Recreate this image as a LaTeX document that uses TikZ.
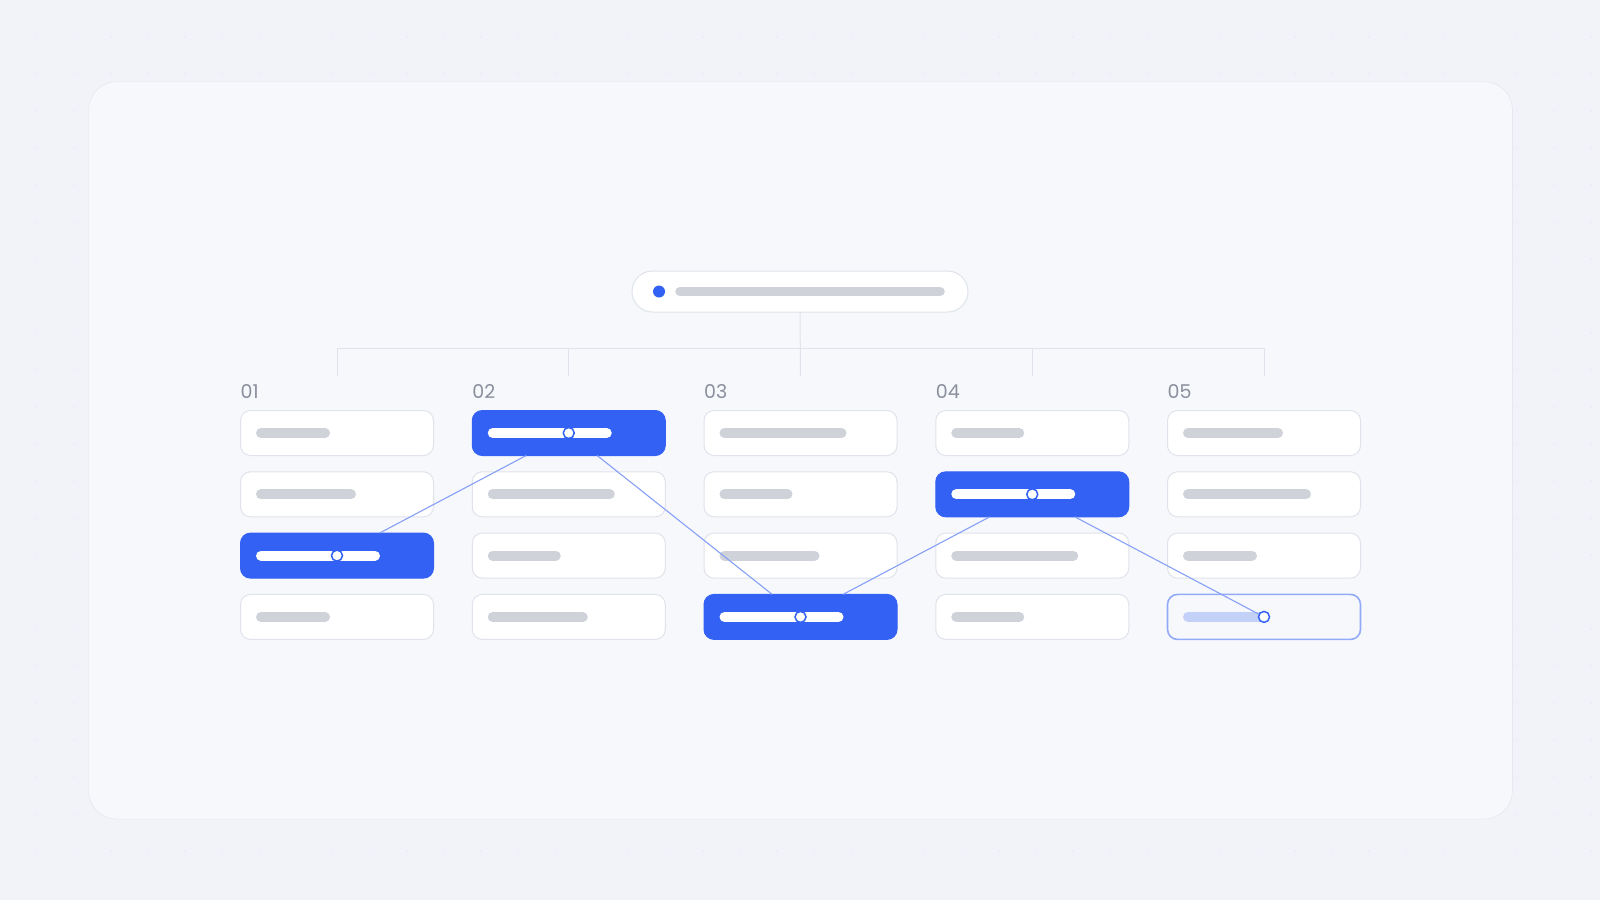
\documentclass[tikz,border=0pt]{standalone}
\usepackage{fontspec}
\setmainfont{Poppins}
\usetikzlibrary{positioning}

\definecolor{pagebg}{HTML}{F1F3F8}
\definecolor{dotc}{HTML}{E6E9F0}
\definecolor{cardbg}{HTML}{F7F8FC}
\definecolor{edge}{HTML}{E0E3EB}
\definecolor{barc}{HTML}{CFD2D9}
\definecolor{accent}{HTML}{3361F4}
\definecolor{linkc}{HTML}{86A0F7}
\definecolor{softbar}{HTML}{C3D0F8}
\definecolor{labelc}{HTML}{8A8F9C}

\begin{document}
\begin{tikzpicture}[x=1pt, y=-1pt,
cell/.style={draw=edge, fill=white, line width=1pt, rounded corners=10pt, minimum width=193pt, minimum height=45pt, inner sep=0pt, outer sep=0pt},
hicell/.style={cell, draw=accent, fill=accent},
softcell/.style={cell, draw=linkc!90, fill=cardbg, line width=1.6pt},
bar/.style={line width=10pt, line cap=round, draw=barc},
tree/.style={draw=edge, line width=1pt},
link/.style={draw=linkc, line width=1.1pt},
pin/.style={circle, draw=accent, fill=white, line width=1.5pt, minimum size=11pt, inner sep=0pt},
collabel/.style={text=labelc, font=\fontsize{19}{19}\selectfont, anchor=base west, inner sep=0pt}
]
    \useasboundingbox (0,0) rectangle (1600,900);
    %Background
    \fill[pagebg] (0,0) rectangle (1600,900);
    \foreach \i in {1,...,43}
        \foreach \j in {1,...,24}
            \fill[dotc] (37*\i, 37*\j) circle (0.9);
    \draw[draw=edge, fill=cardbg, rounded corners=28pt] (88.7,81.7) rectangle (1512.3,819);

    %Root
    \node[cell, rounded corners=20.5pt, minimum width=336pt, minimum height=41pt] 
        (root) at (800,291.5) {};
    \fill[accent] (root.west) ++(27,0) circle (6);
    \draw[bar, line width=9.5pt] (root.west) ++(48,0) -- ++(260,0);

    %Columns
    \foreach \c in {1,...,5} {
        \pgfmathsetmacro\cx{337+231.75*(\c-1)}
        \coordinate (top\c) at (\cx,376);
        \node[collabel] (lab\c) at (\cx-96.5,398.3) {0\c};
    }
    \coordinate (hub) at (800,348);
    \draw[tree] (root.south) -- (top3);
    \draw[tree] (top1 |- hub) -- (top5 |- hub);
    \foreach \c in {1,2,4,5}
        \draw[tree] (top\c |- hub) -- (top\c);

    %Cells
    \foreach \c/\r/\len in {1/1/74, 1/2/100, 1/4/74, 2/2/127, 2/3/73, 2/4/100,
        3/1/127, 3/2/73, 3/3/100, 4/1/73, 4/3/127, 4/4/73, 5/1/100, 5/2/128, 5/3/74} {
        \node[cell] (b\c\r) at (337+231.75*\c-231.75, 433+61.3*\r-61.3) {};
        \draw[bar] (b\c\r.west) ++(20.5,0) -- ++(\len-10,0);
    }
    \foreach \c/\r in {1/3, 2/1, 3/4, 4/2} {
        \node[hicell] (b\c\r) at (337+231.75*\c-231.75, 433+61.3*\r-61.3) {};
        \draw[bar, draw=white] (b\c\r.west) ++(20.5,0) -- ++(114,0);
    }
    \node[softcell] (b54) at (1264,616.9) {};
    \draw[bar, draw=softbar] (b54.west) ++(20.5,0) -- ++(71,0);

    %Pins
    \node[pin] (pin1) at (b13.center) {};
    \node[pin] (pin2) at (b21.center) {};
    \node[pin] (pin3) at (b34.center) {};
    \node[pin] (pin4) at (b42.center) {};
    \node[pin] (pin5) at (b54.center) {};

    %Lines
    \draw[link] (b13) -- (b21);
    \draw[link] (b21) -- (b34);
    \draw[link] (b34) -- (b42);
    \draw[link] (b42) -- (pin5);
\end{tikzpicture}
\end{document}
